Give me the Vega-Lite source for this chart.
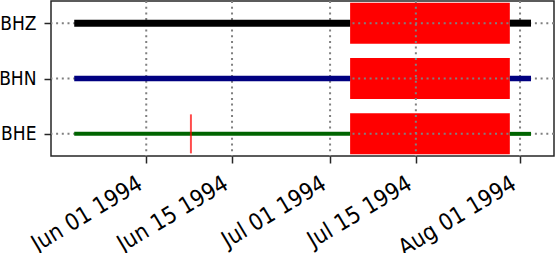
{
  "$schema": "https://vega.github.io/schema/vega-lite/v6.json",
  "width": 503,
  "height": 155,
  "autosize": {"type": "none"},
  "padding": {"left": 51, "top": 1, "right": 1, "bottom": 97},
  "config": {
    "view": {"stroke": "#262626", "strokeWidth": 1.5},
    "font": "DejaVu Sans Condensed",
    "axis": {
      "grid": false,
      "domain": false,
      "tickColor": "#262626",
      "tickWidth": 1.5,
      "tickSize": 7,
      "labelFontSize": 19,
      "labelColor": "#000000",
      "labelFont": "DejaVu Sans Condensed",
      "title": null
    }
  },
  "datasets": {
    "segments": [
      {"channel": "BHZ", "start": "1994-05-20T06:00", "end": "1994-07-04T06:30"},
      {"channel": "BHZ", "start": "1994-07-30T08:00", "end": "1994-08-02T19:00"},
      {"channel": "BHN", "start": "1994-05-20T06:00", "end": "1994-07-04T06:30"},
      {"channel": "BHN", "start": "1994-07-30T08:00", "end": "1994-08-02T19:00"},
      {"channel": "BHE", "start": "1994-05-20T06:00", "end": "1994-07-04T06:30"},
      {"channel": "BHE", "start": "1994-07-30T08:00", "end": "1994-08-02T19:00"}
    ],
    "gaps": [
      {"channel": "BHZ", "start": "1994-07-04T06:30", "end": "1994-07-30T08:00"},
      {"channel": "BHN", "start": "1994-07-04T06:30", "end": "1994-07-30T08:00"},
      {"channel": "BHE", "start": "1994-07-04T06:30", "end": "1994-07-30T08:00"}
    ],
    "overlaps": [
      {"channel": "BHE", "time": "1994-06-08T07:00"}
    ],
    "gridTimes": [
      {"time": "1994-06-01T00:00"},
      {"time": "1994-06-15T00:00"},
      {"time": "1994-07-01T00:00"},
      {"time": "1994-07-15T00:00"},
      {"time": "1994-08-01T00:00"}
    ],
    "channels": [
      {"channel": "BHZ"},
      {"channel": "BHN"},
      {"channel": "BHE"}
    ]
  },
  "layer": [
    {
      "data": {"name": "gaps"},
      "mark": {"type": "bar", "color": "#ff0000", "height": 41},
      "encoding": {
        "x": {
          "field": "start",
          "type": "temporal",
          "scale": {
            "domain": [
              {"year": 1994, "month": 5, "date": 16, "hours": 11},
              {"year": 1994, "month": 8, "date": 6, "hours": 13}
            ]
          },
          "axis": {
            "values": [
              {"year": 1994, "month": 6, "date": 1},
              {"year": 1994, "month": 6, "date": 15},
              {"year": 1994, "month": 7, "date": 1},
              {"year": 1994, "month": 7, "date": 15},
              {"year": 1994, "month": 8, "date": 1}
            ],
            "format": "%b %d %Y",
            "labelFontSize": 23,
            "labelAngle": -31,
            "labelAlign": "right",
            "labelBaseline": "top",
            "labelPadding": 9,
            "labelOffset": -12,
            "labelOverlap": false,
            "labelFlush": false,
            "labelBound": false
          }
        },
        "x2": {"field": "end"},
        "y": {
          "field": "channel",
          "type": "nominal",
          "sort": ["BHZ", "BHN", "BHE"],
          "scale": {"type": "point", "padding": 0.4},
          "axis": {"labelPadding": 8}
        }
      }
    },
    {
      "data": {"name": "gridTimes"},
      "mark": {"type": "rule", "color": "#808080", "strokeWidth": 2, "strokeDash": [2, 3.7]},
      "encoding": {
        "x": {"field": "time", "type": "temporal"}
      }
    },
    {
      "data": {"name": "channels"},
      "mark": {"type": "rule", "color": "#808080", "strokeWidth": 2, "strokeDash": [2, 3.7]},
      "encoding": {
        "y": {"field": "channel", "type": "nominal", "sort": ["BHZ", "BHN", "BHE"]}
      }
    },
    {
      "data": {"name": "segments"},
      "mark": {"type": "rule"},
      "encoding": {
        "x": {"field": "start", "type": "temporal"},
        "x2": {"field": "end"},
        "y": {"field": "channel", "type": "nominal", "sort": ["BHZ", "BHN", "BHE"]},
        "color": {
          "field": "channel",
          "type": "nominal",
          "scale": {"domain": ["BHZ", "BHN", "BHE"], "range": ["#000000", "#000080", "#006400"]},
          "legend": null
        },
        "size": {
          "field": "channel",
          "type": "ordinal",
          "scale": {"domain": ["BHZ", "BHN", "BHE"], "range": [7, 4, 4]},
          "legend": null
        }
      }
    },
    {
      "data": {"name": "overlaps"},
      "mark": {"type": "tick", "color": "#ff0000", "size": 39, "thickness": 2, "orient": "vertical"},
      "encoding": {
        "x": {"field": "time", "type": "temporal"},
        "y": {"field": "channel", "type": "nominal", "sort": ["BHZ", "BHN", "BHE"]}
      }
    }
  ]
}
